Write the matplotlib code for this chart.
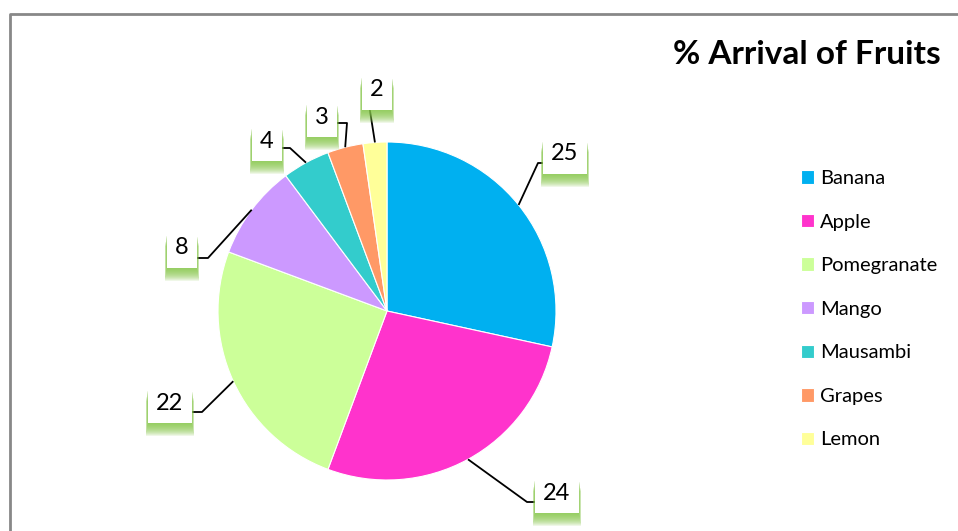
import numpy as np
import matplotlib
matplotlib.use("Agg")
import matplotlib.pyplot as plt
from matplotlib.patches import Rectangle

plt.rcParams["font.family"] = ["Lato", "DejaVu Sans"]

# --- Data ---
fruits = ["Banana", "Apple", "Pomegranate", "Mango", "Mausambi", "Grapes", "Lemon"]
arrivals = [25, 24, 22, 8, 4, 3, 2]
colors = ["#00B0F0", "#FF33CC", "#CCFF99", "#CC99FF", "#33CCCC", "#FF9966", "#FFFF99"]

# --- Layout (pixel positions, y measured from top) ---
W, H = 958, 531
pie_center = (387, 311)
pie_radius = 169
label_pos = [(565, 154), (557, 493), (170, 403), (182, 248), (267, 141), (322, 117), (377, 90)]
# leader elbow and end points next to each label box
leader_elbow = [(538, 163), (527, 502), (202, 412), (208, 258), (290, 148), (347, 123), (368, 98)]
leader_end = [(550, 163), (538, 502), (190, 412), (195, 258), (278, 148), (333, 123), (368, 98)]


def px(p):
    return (p[0], H - p[1])


fig = plt.figure(figsize=(W / 100, H / 100), dpi=100)
ax = fig.add_axes([0, 0, 1, 1])

wedges, _ = ax.pie(arrivals, colors=colors, startangle=90, counterclock=False,
                   center=px(pie_center), radius=pie_radius,
                   wedgeprops=dict(edgecolor="white", linewidth=0.8))

ax.set_xlim(0, W)
ax.set_ylim(0, H)
ax.set_aspect("auto")
ax.axis("off")

# --- Data labels with leader lines ---
cx, cy = px(pie_center)
for w, val, lp, el, en in zip(wedges, arrivals, label_pos, leader_elbow, leader_end):
    mid = np.deg2rad((w.theta1 + w.theta2) / 2)
    anchor = (cx + pie_radius * np.cos(mid), cy + pie_radius * np.sin(mid))
    e1, e2 = px(el), px(en)
    ax.plot([anchor[0], e1[0], e2[0]], [anchor[1], e1[1], e2[1]], color="black", lw=1.3,
            solid_capstyle="butt", zorder=3)

    tx, ty = px(lp)
    bw = 16 + 14 * len(str(val))
    bh = 35
    bx, by = tx - bw / 2, ty - 2.5 - bh / 2
    # soft green glow below the box
    for d in range(1, 14):
        s = d / 6
        ax.add_patch(Rectangle((bx - s, by - d), bw + 2 * s, bh, fc="#86C84A",
                               ec="none", alpha=0.13, zorder=3.5))
    ax.add_patch(Rectangle((bx, by), bw, bh, fc="white", ec="none", zorder=3.6))
    ax.text(tx, ty, str(val), ha="center", va="center", fontsize=17, zorder=4)

# --- Title ---
ax.text(806.5, H - 55, "% Arrival of Fruits", ha="center", va="center",
        fontsize=24, fontweight="bold")

# --- Legend ---
ax.legend(wedges, fruits, loc="upper left", bbox_to_anchor=(801 / W, 1 - 170 / H),
          frameon=False, fontsize=14.5, handlelength=0.65, handleheight=0.65,
          handletextpad=0.3, labelspacing=1.32, borderpad=0, borderaxespad=0)

# --- Chart border ---
ax.plot([10.5, 10.5, W], [0, H - 13.5, H - 13.5], color="#888888", lw=2)

fig.savefig("out.png", dpi=100)
